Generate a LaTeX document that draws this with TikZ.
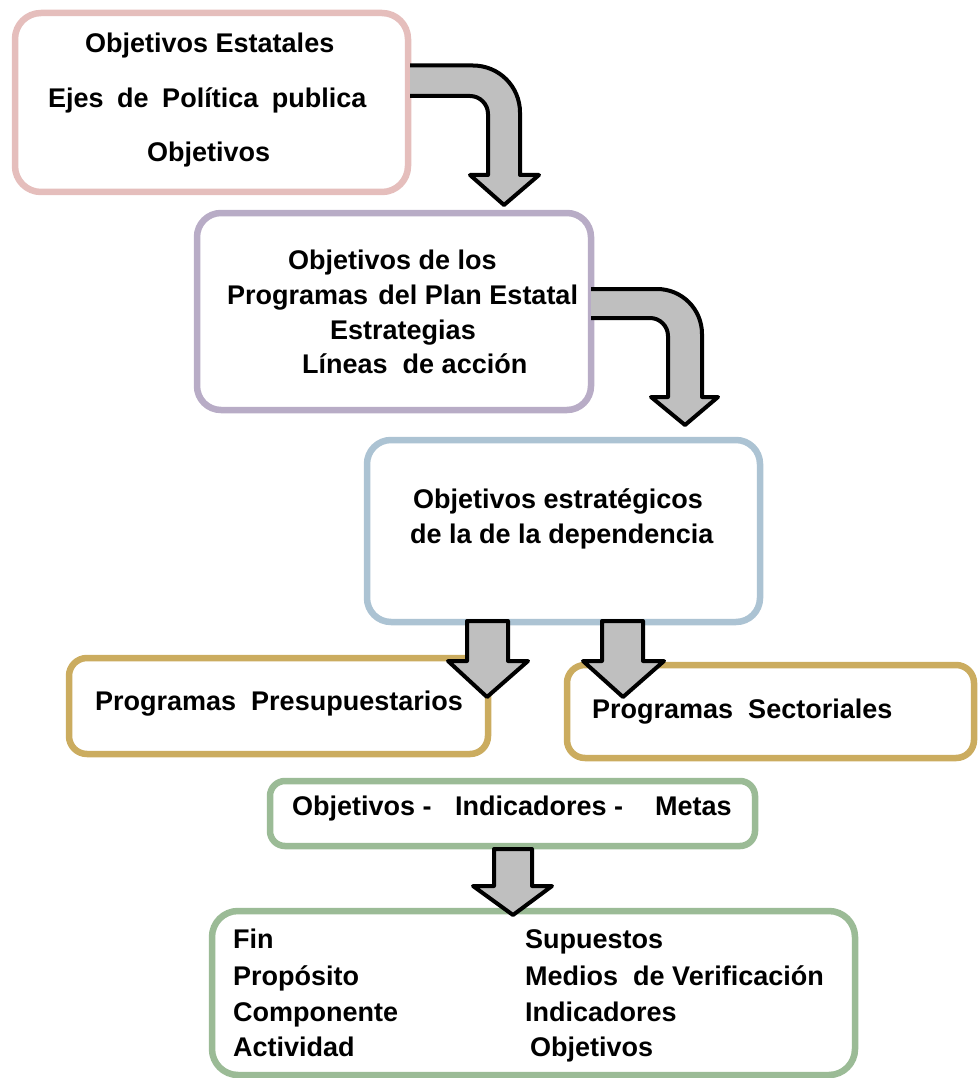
\documentclass[tikz,border=0pt]{standalone}
\usepackage{fontspec}
\setmainfont{Liberation Sans}
\definecolor{pinkc}{RGB}{229,190,188}
\definecolor{purpc}{RGB}{184,172,198}
\definecolor{bluec}{RGB}{172,195,211}
\definecolor{goldc}{RGB}{203,172,95}
\definecolor{greenc}{RGB}{155,187,150}
\definecolor{arrgray}{RGB}{191,191,191}
\tikzset{
  boxnode/.style={draw=#1, line width=6.5, fill=white, rectangle, inner sep=0},
  txt/.style={anchor=base west, inner sep=0, font=\fontsize{27}{32}\selectfont\bfseries},
  arrfill/.style={fill=arrgray},
  arrline/.style={draw=black, line width=4, line join=round},
}
\begin{document}
\begin{tikzpicture}[x=1pt,y=-1pt]
\useasboundingbox (0,0) rectangle (978,1078);
% boxes
\node[boxnode=pinkc, rounded corners=26, minimum width=393, minimum height=179] (b1) at (211.5,102.5) {};
\node[boxnode=purpc, rounded corners=24, minimum width=394, minimum height=197] (b2) at (394,311.5) {};
\node[boxnode=bluec, rounded corners=24, minimum width=393, minimum height=182] (b3) at (563.5,531) {};
\node[boxnode=goldc, rounded corners=18, minimum width=419, minimum height=96] (b4) at (278.5,706) {};
\node[boxnode=goldc, rounded corners=18, minimum width=407, minimum height=93] (b5) at (770.5,711.5) {};
\node[boxnode=greenc, rounded corners=15, minimum width=485, minimum height=65] (b6) at (512.5,813.5) {};
\node[boxnode=greenc, rounded corners=26, minimum width=643, minimum height=164] (b7) at (533.5,993) {};
% curved arrow 1
\fill[arrfill] (410,96) -- (470,96) .. controls (479.9,96) and (488,104.1) .. (488,114) -- (488,175) -- (470,175) -- (504,205) -- (539,175) -- (520,175) -- (520,112.5) .. controls (520,86.5) and (499,65.5) .. (473,65.5) -- (410,65.5) -- cycle;
\draw[arrline] (410,96) -- (470,96) .. controls (479.9,96) and (488,104.1) .. (488,114) -- (488,175) -- (470,175) -- (504,205) -- (539,175) -- (520,175) -- (520,112.5) .. controls (520,86.5) and (499,65.5) .. (473,65.5) -- (410,65.5);
% curved arrow 2
\fill[arrfill] (591,318) -- (650,318) .. controls (659.9,318) and (668,326.1) .. (668,336) -- (668,397) -- (651,397) -- (685,425) -- (718,397) -- (702,397) -- (702,334) .. controls (702,309.1) and (681.9,289) .. (657,289) -- (591,289) -- cycle;
\draw[arrline] (591,318) -- (650,318) .. controls (659.9,318) and (668,326.1) .. (668,336) -- (668,397) -- (651,397) -- (685,425) -- (718,397) -- (702,397) -- (702,334) .. controls (702,309.1) and (681.9,289) .. (657,289) -- (591,289);
% down arrows
\filldraw[arrfill, arrline] (467,621) -- (508,621) -- (508,661) -- (528,661) -- (487,697) -- (448,661) -- (467,661) -- cycle;
\filldraw[arrfill, arrline] (602,621) -- (643,621) -- (643,661) -- (664,661) -- (623,697) -- (583,661) -- (602,661) -- cycle;
\filldraw[arrfill, arrline] (494,849) -- (532,849) -- (532,886) -- (552,886) -- (513,915) -- (473,886) -- (494,886) -- cycle;
% texts box 1
\node[txt] (t11) at (85,53) {Objetivos Estatales};
\node[txt] (t12) at (48,108) {Ejes\hspace{0.5em}de\hspace{0.5em}Política\hspace{0.5em}publica};
\node[txt] (t13) at (147,162) {Objetivos};
% box 2
\node[txt] (t21) at (288,269) {Objetivos de los};
\node[txt] (t22) at (227,304) {Programas\hspace{0.1em} del Plan Estatal};
\node[txt] (t23) at (330,339) {Estrategias};
\node[txt] (t24) at (302,373) {Líneas\ \ de acción};
% box 3
\node[txt] (t31) at (413,508) {Objetivos estratégicos};
\node[txt] (t32) at (410,543) {de la de la dependencia};
% box 4, 5
\node[txt] (t41) at (95,710) {Programas\ \ Presupuestarios};
\node[txt] (t51) at (592,718) {Programas\ \ Sectoriales};
% box 6
\node[txt] (t61) at (292,815) {Objetivos -};
\node[txt] (t62) at (455,815) {Indicadores -};
\node[txt] (t63) at (655,815) {Metas};
% box 7
\node[txt] (t71) at (233,948) {Fin};
\node[txt] (t72) at (233,985) {Propósito};
\node[txt] (t73) at (233,1021) {Componente};
\node[txt] (t74) at (233,1056) {Actividad};
\node[txt] (t75) at (525,948) {Supuestos};
\node[txt] (t76) at (525,985) {Medios\ \ de Verificación};
\node[txt] (t77) at (525,1021) {Indicadores};
\node[txt] (t78) at (530,1056) {Objetivos};
\end{tikzpicture}
\end{document}
